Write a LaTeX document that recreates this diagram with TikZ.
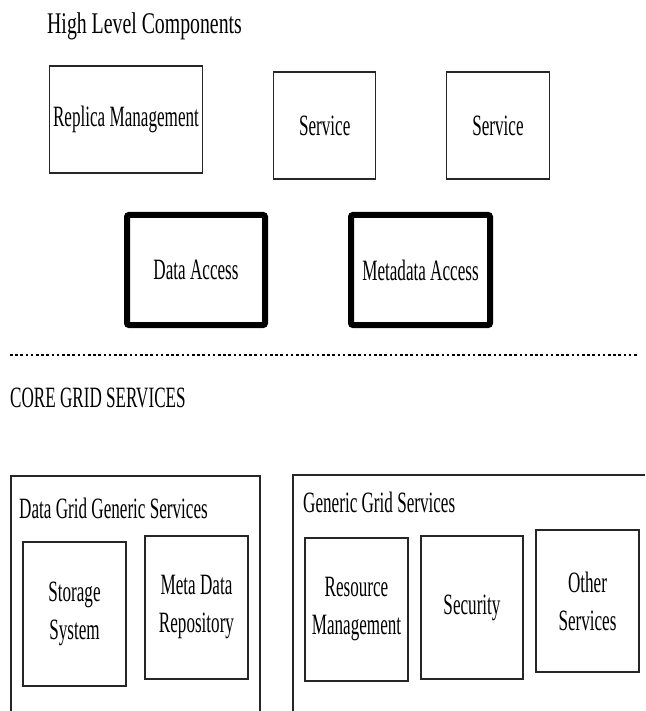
\documentclass[tikz,border=0pt]{standalone}
\usepackage{fontspec}
\setmainfont[FakeStretch=0.58]{Liberation Serif}
\newfontfamily\headfont[FakeStretch=0.66]{Liberation Serif}
\begin{document}
\begin{tikzpicture}[x=1pt,y=-1pt,
  thinbox/.style={draw=black!85,line width=1.1pt,inner sep=0pt,align=center},
  thickbox/.style={draw=black,line width=6pt,rounded corners=2pt,inner sep=0pt,align=center},
  lbl/.style={font=\fontsize{29.5}{38}\selectfont},
  frame/.style={draw=black!85,line width=1.1pt}]
\useasboundingbox (0,0) rectangle (645,711);

% upper layer
\node[anchor=base west,inner sep=0pt,font=\headfont\fontsize{30}{34}\selectfont] (hlc) at (47,34) {High Level Components};
\node[thinbox,lbl,minimum width=153.5,minimum height=107] (rm) at (126,119.5) {Replica Management};
\node[thinbox,lbl,minimum width=102,minimum height=107] (s1) at (324.7,125.5) {Service};
\node[thinbox,lbl,minimum width=103,minimum height=107] (s2) at (498,125.5) {Service};
\node[thickbox,lbl,minimum width=138,minimum height=110] (da) at (196,270) {Data Access};
\node[thickbox,lbl,minimum width=139,minimum height=110] (ma) at (420.5,270) {Metadata Access};

% layer separator
\coordinate (sepl) at (10,355);
\coordinate (sepr) at (637,355);
\draw[line width=2.8pt,dash pattern=on 2.6pt off 2.6pt] (sepl) -- (sepr);

% core grid services
\node[anchor=base west,inner sep=0pt,lbl] (cgs) at (10,407) {CORE GRID SERVICES};

\coordinate (lf1) at (11,711);
\coordinate (lf2) at (11,476);
\coordinate (lf3) at (260,476);
\coordinate (lf4) at (260,711);
\draw[frame] (lf1) -- (lf2) -- (lf3) -- (lf4);
\coordinate (rf1) at (293,711);
\coordinate (rf2) at (293,475);
\coordinate (rf3) at (645,475);
\draw[frame] (rf1) -- (rf2) -- (rf3);

\node[anchor=west,inner sep=0pt,lbl] (dggs) at (19,508) {Data Grid Generic Services};
\node[anchor=west,inner sep=0pt,lbl] (ggs) at (303,502) {Generic Grid Services};

\node[thinbox,lbl,minimum width=103,minimum height=144] (ss) at (74.5,614) {Storage\\System};
\node[thinbox,lbl,minimum width=103,minimum height=143] (mdr) at (196.5,607.5) {Meta Data\\Repository};
\node[thinbox,lbl,minimum width=103,minimum height=143] (res) at (356.5,609.5) {Resource\\Management};
\node[thinbox,lbl,minimum width=102,minimum height=143] (sec) at (472,607.5) {Security};
\node[thinbox,lbl,minimum width=103,minimum height=142] (oth) at (587.5,601) {Other\\Services};
\end{tikzpicture}
\end{document}
